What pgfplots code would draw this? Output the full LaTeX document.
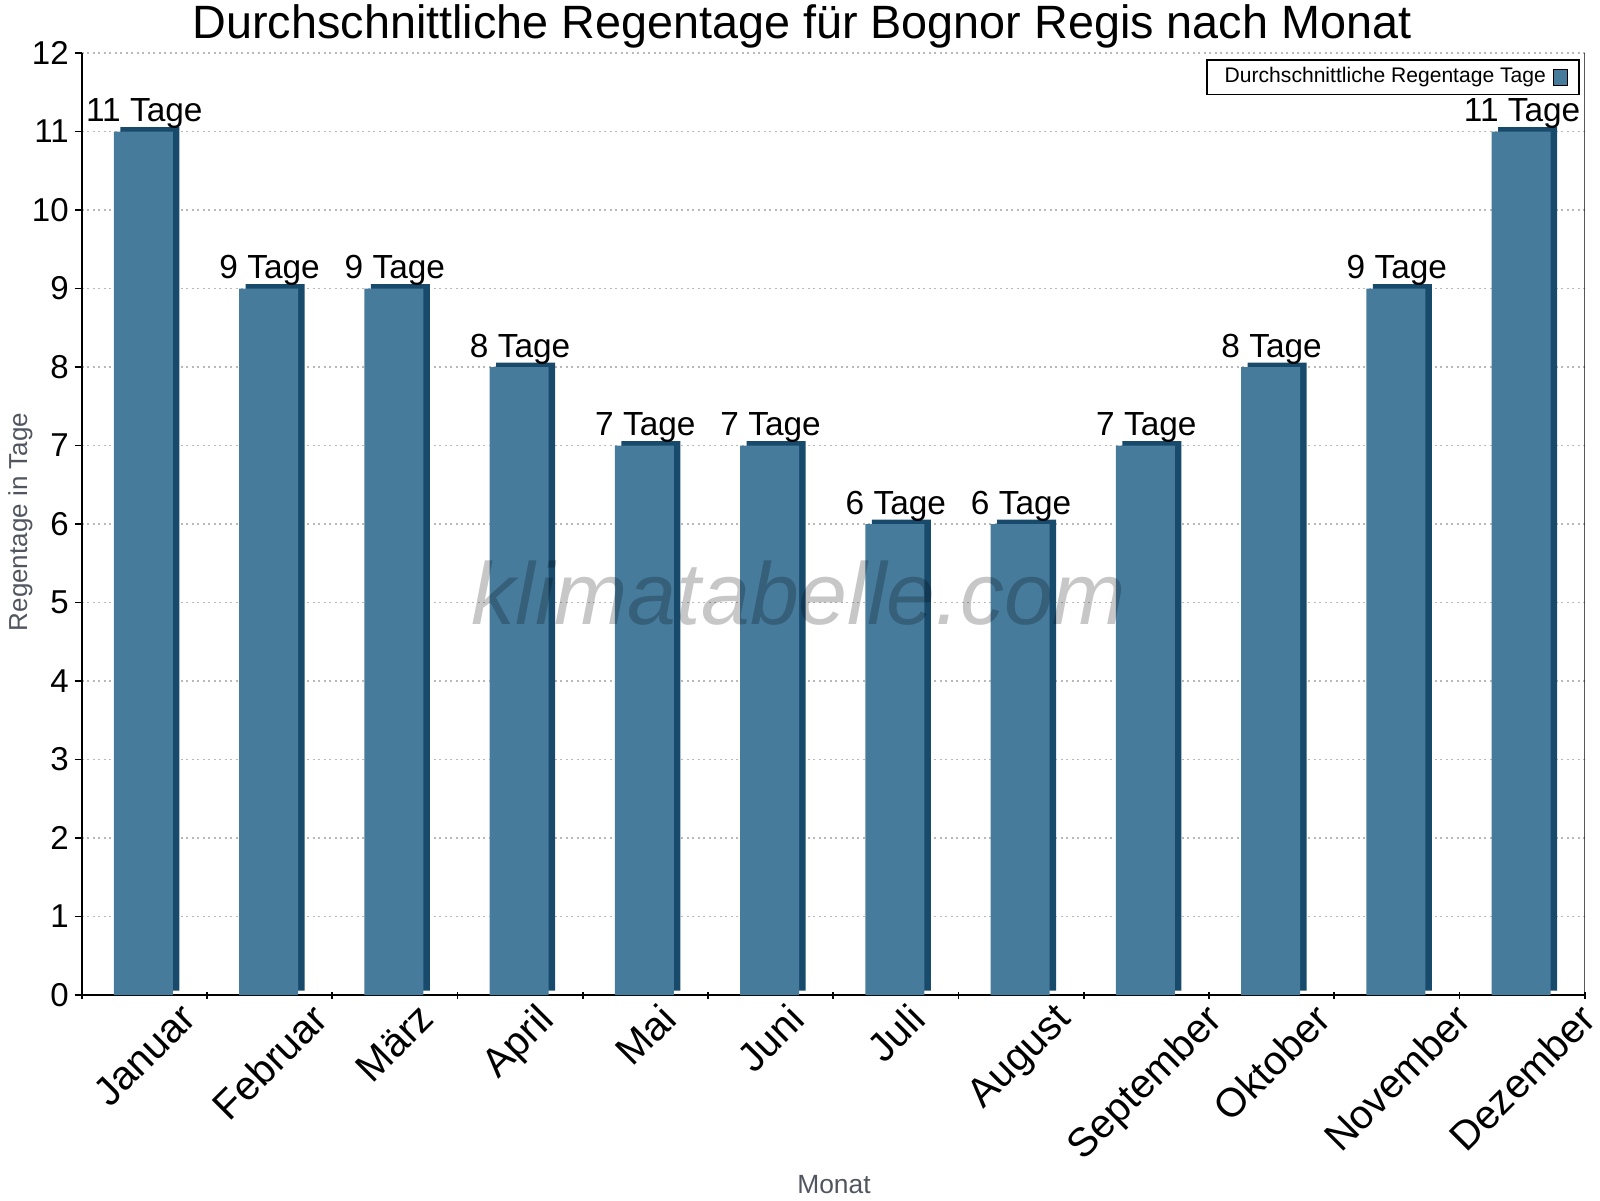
\documentclass[border=0pt]{standalone}
\usepackage{fontspec}
\setmainfont{Liberation Sans}
\usepackage{pgfplots}
\pgfplotsset{compat=1.18}
\usepackage{graphicx}
\definecolor{barfront}{RGB}{70,123,156}
\definecolor{bardark}{RGB}{24,74,108}
\definecolor{labgray}{RGB}{80,85,95}
\begin{document}
\begin{tikzpicture}
\useasboundingbox (0,0) rectangle (16,12);
\begin{axis}[
  at={(0.817cm,2.05cm)}, anchor=south west,
  width=15.03cm, height=9.42cm, scale only axis,
  xmin=0.5, xmax=12.5, ymin=0, ymax=12,
  axis x line*=bottom, axis y line*=left,
  xtick={0.5,1.5,...,12.5},
  x tick label as interval,
  xticklabels={\rotatebox{45}{Januar},\rotatebox{45}{Februar},\rotatebox{45}{März},\rotatebox{45}{April},\rotatebox{45}{Mai},\rotatebox{45}{Juni},\rotatebox{45}{Juli},\rotatebox{45}{August},\rotatebox{45}{September},\rotatebox{45}{Oktober},\rotatebox{45}{November},\rotatebox{45}{Dezember}},
  xticklabel style={anchor=north, inner sep=0pt, yshift=-0.2mm, font=\fontsize{11.5}{13}\selectfont},
  ytick={0,1,...,12},
  yticklabel style={font=\fontsize{9.4}{11}\selectfont, inner sep=1.5pt},
  /pgf/number format/assume math mode=true,
  xtick align=center, ytick align=outside,
  major tick length=0.07cm,
  tick style={black, line width=0.5pt},
  ymajorgrids,
  grid style={gray!55, line width=0.4pt, dash pattern=on 0.02cm off 0.035cm},
  axis line style={black, line width=0.5pt},
  legend style={at={(0.9967,0.9936)}, anchor=north east, draw=black, line width=0.5pt,
    font=\fontsize{6}{7}\selectfont, inner xsep=3pt, inner ysep=0.5pt,
    nodes={inner ysep=1.5pt}},
  legend plot pos=right,
]
\addplot[ybar, bar width=0.47, bar shift=0.55mm, yshift=0.45mm, fill=bardark, draw=none, forget plot]
  coordinates {(1,11) (2,9) (3,9) (4,8) (5,7) (6,7) (7,6) (8,6) (9,7) (10,8) (11,9) (12,11)};
\addplot[ybar, bar width=0.47, bar shift=-0.1mm, fill=barfront, draw=none,
  nodes near coords={\pgfmathprintnumber{\pgfplotspointmeta} Tage},
  every node near coord/.append style={anchor=south, inner sep=0.6pt, text=black, font=\fontsize{9.5}{11}\selectfont},
  legend image code/.code={\draw[fill=barfront, draw=black, line width=0.4pt] (0cm,-0.08cm) rectangle (0.14cm,0.08cm);}]
  coordinates {(1,11) (2,9) (3,9) (4,8) (5,7) (6,7) (7,6) (8,6) (9,7) (10,8) (11,9) (12,11)};
\addlegendentry{Durchschnittliche Regentage Tage}
\draw[black, line width=0.5pt] (rel axis cs:1,0) -- (rel axis cs:1,1);
\end{axis}
\node[anchor=base, font=\fontsize{13.3}{15}\selectfont] at (8.02,11.61) {Durchschnittliche Regentage für Bognor Regis nach Monat};
\node[rotate=90, font=\fontsize{7.4}{9}\selectfont, text=labgray] at (0.204,6.78) {Regentage in Tage};
\node[anchor=base, font=\fontsize{7.5}{9}\selectfont, text=labgray] at (8.34,0.07) {Monat};
\node[font=\fontsize{25}{30}\selectfont\itshape, text=black, text opacity=0.22] at (7.99,6.07) {klimatabelle.com};
\end{tikzpicture}
\end{document}
